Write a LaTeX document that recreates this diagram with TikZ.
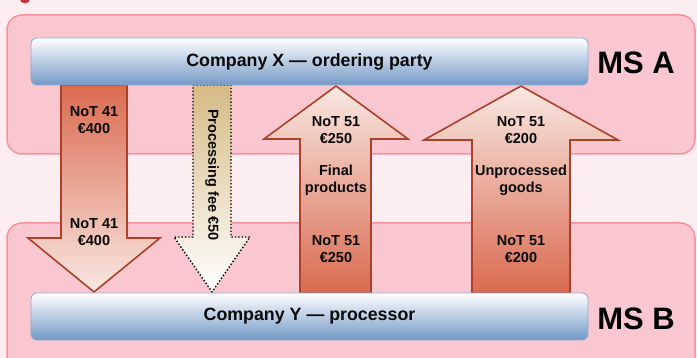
\documentclass[tikz,border=0pt]{standalone}
\usepackage{fontspec}
\setmainfont{Liberation Sans}
\definecolor{bgpink}{HTML}{FBEDF0}
\definecolor{panelfill}{HTML}{FAC6CF}
\definecolor{panelline}{HTML}{F592A2}
\definecolor{boxline}{HTML}{8EAAD6}
\definecolor{boxblue}{HTML}{7399C6}
\definecolor{arrline}{HTML}{A9412B}
\definecolor{arrdark}{HTML}{DA6A4F}
\definecolor{arrlight}{HTML}{F9E8E2}
\definecolor{tan}{HTML}{D6BA85}
\definecolor{dotred}{HTML}{C8323C}
\definecolor{txt}{HTML}{0A0A0A}
\tikzset{
  panel/.style={fill=panelfill, draw=panelline, line width=1.5pt, rounded corners=15pt},
  company/.style={draw=boxline, line width=0.8pt, rounded corners=6pt, top color=white, bottom color=boxblue,
    minimum width=557pt, minimum height=47pt, inner sep=0pt, font=\bfseries\fontsize{17.8}{20}\selectfont, text=txt},
  flowup/.style={draw=arrline, line width=1.6pt, top color=arrlight, bottom color=arrdark},
  flowdown/.style={draw=arrline, line width=1.6pt, top color=arrdark, bottom color=arrlight},
  feearrow/.style={draw=black, line width=1.4pt, dotted, top color=tan, bottom color=white},
  lbl/.style={align=center, font=\bfseries\fontsize{14.5}{16.8}\selectfont, text=txt, inner sep=0pt},
  msl/.style={font=\bfseries\fontsize{31}{34}\selectfont, text=black, inner sep=0pt}
}
\begin{document}
\begin{tikzpicture}[x=1pt,y=-1pt]
\useasboundingbox (0,0) rectangle (697,358);
\clip (0,0) rectangle (697,358);
\fill[bgpink] (0,0) rectangle (697,358);
\fill[dotred] (25,-2) circle (5.5);
% member-state panels
\path[panel] (7,15) rectangle (695,154);
\path[panel] (7,223) rectangle (695,372);
% down arrow NoT 41
\path[flowdown] (61,85) -- (127,85) -- (127,238) -- (160,238) -- (94,292) -- (28,238) -- (61,238) -- cycle;
% processing fee arrow
\path[feearrow] (193,85) -- (231,85) -- (231,237) -- (250,237) -- (212,292) -- (174,237) -- (193,237) -- cycle;
% up arrow final products
\path[flowup] (300,293) -- (371,293) -- (371,139) -- (408,139) -- (336,86) -- (264,139) -- (300,139) -- cycle;
% up arrow unprocessed goods
\path[flowup] (472,293) -- (570,293) -- (570,140) -- (618,140) -- (521,86) -- (424,140) -- (472,140) -- cycle;
% companies
\node[company] (cx) at (309.5,61.5) {Company X — ordering party};
\node[company] (cy) at (309.5,316.5) {Company Y — processor};
\node[msl] (msa) at (636,63) {MS A};
\node[msl] (msb) at (636,319) {MS B};
% labels
\node[lbl] (l1) at (94,120) {NoT 41\\€400};
\node[lbl] (l2) at (94,232) {NoT 41\\€400};
\node[lbl, rotate=-90] (l3) at (212,175) {Processing fee €50};
\node[lbl] (l4) at (336,130) {NoT 51\\€250};
\node[lbl] (l5) at (336,180) {Final\\products};
\node[lbl] (l6) at (336,249) {NoT 51\\€250};
\node[lbl] (l7) at (521,130) {NoT 51\\€200};
\node[lbl] (l8) at (521,180) {Unprocessed\\goods};
\node[lbl] (l9) at (521,249) {NoT 51\\€200};
\end{tikzpicture}
\end{document}
